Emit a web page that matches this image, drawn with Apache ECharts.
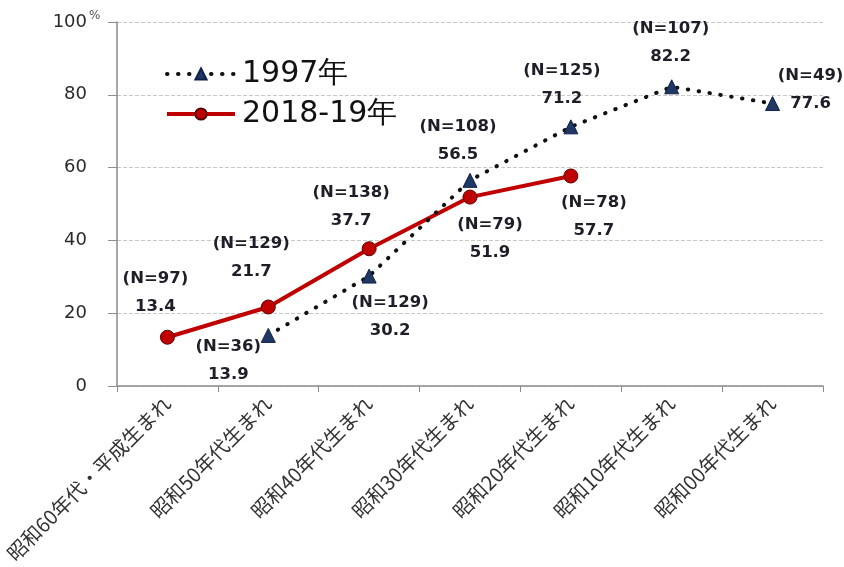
<!DOCTYPE html>
<html>
<head>
<meta charset="utf-8">
<script src="https://cdn.jsdelivr.net/npm/echarts@6/dist/echarts.min.js"></script>
<style>
  html, body { margin: 0; padding: 0; background: #fff; }
  #chart { width: 844px; height: 567px; }
</style>
</head>
<body>
<div id="chart"></div>
<script>
// Birth-cohort categories (x axis)
const categories = ['昭和60年代・平成生まれ', '昭和50年代生まれ', '昭和40年代生まれ', '昭和30年代生まれ', '昭和20年代生まれ', '昭和10年代生まれ', '昭和00年代生まれ'];

// Percentages per cohort
const values1997 = [null, 13.9, 30.2, 56.5, 71.2, 82.2, 77.6];
const values2018 = [13.4, 21.7, 37.7, 51.9, 57.7, null, null];

// Sample sizes per cohort
const n1997 = [null, 36, 129, 108, 125, 107, 49];
const n2018 = [97, 129, 138, 79, 78, null, null];

// Y axis ticks
const yTicks = [0, 20, 40, 60, 80, 100];

const seriesNames = ['1997年', '2018-19年'];

// Label placement (offset of the two-line label block from its point)
const offsets1997 = [null, [-40, 25], [21, 41], [-12, -40], [-9, -42], [-1, -44], [38, -14]];
const offsets2018 = [[-12, -45], [-17, -49], [-18, -42], [20, 42], [23, 41], null, null];

function buildData(values, ns, offsets) {
  return values.map((v, i) => {
    if (v == null) return null;
    return {
      value: v,
      label: {
        show: true,
        position: 'inside',
        offset: offsets[i],
        formatter: '(N=' + ns[i] + ')\n' + v.toFixed(1)
      }
    };
  });
}

const labelStyle = {
  align: 'center',
  verticalAlign: 'middle',
  fontFamily: 'DejaVu Sans',
  fontWeight: 'bold',
  fontSize: 16.5,
  lineHeight: 28,
  color: '#1e1e28'
};

const chart = echarts.init(document.getElementById('chart'), null, { renderer: 'canvas' });

chart.setOption({
  animation: false,
  backgroundColor: '#ffffff',
  grid: { left: 117, right: 21, top: 22, bottom: 181, containLabel: false },
  legend: {
    orient: 'vertical',
    left: 160,
    top: 53,
    itemWidth: 68,
    itemHeight: 14,
    itemGap: 8,
    lineStyle: { width: 4 },
    textStyle: {
      fontFamily: 'DejaVu Sans',
      fontSize: 30,
      lineHeight: 32,
      color: '#111',
      padding: [0, 0, 0, 2]
    },
    data: seriesNames
  },
  xAxis: {
    type: 'category',
    data: categories,
    boundaryGap: true,
    axisLine: { lineStyle: { color: '#8c8c8c', width: 1.5 } },
    axisTick: { show: true, length: 6, lineStyle: { color: '#8c8c8c' } },
    axisLabel: {
      rotate: 45,
      interval: 0,
      margin: 14,
      fontFamily: 'Noto Sans CJK JP',
      fontSize: 20,
      color: '#333'
    }
  },
  yAxis: {
    type: 'value',
    min: yTicks[0],
    max: yTicks[yTicks.length - 1],
    interval: yTicks[1] - yTicks[0],
    axisLine: { show: true, lineStyle: { color: '#8c8c8c', width: 1.5 } },
    axisTick: { show: true, length: 9, lineStyle: { color: '#8c8c8c' } },
    axisLabel: {
      margin: 30,
      fontFamily: 'DejaVu Sans',
      fontSize: 18,
      color: '#2a2a2a'
    },
    splitLine: { show: true, lineStyle: { color: '#c8c8c8', type: [4, 2], width: 1 } }
  },
  graphic: [{
    type: 'text',
    left: 89,
    top: 10,
    style: { text: '%', fontFamily: 'DejaVu Sans', fontSize: 12, fill: '#555' }
  }],
  series: [
    {
      name: seriesNames[0],
      type: 'line',
      data: buildData(values1997, n1997, offsets1997),
      connectNulls: false,
      symbol: 'triangle',
      symbolSize: 14,
      itemStyle: { color: '#1f3864', borderColor: '#10204a', borderWidth: 1 },
      lineStyle: { color: '#111', width: 4, type: [0.5, 10.5], cap: 'round' },
      label: labelStyle,
      z: 3
    },
    {
      name: seriesNames[1],
      type: 'line',
      data: buildData(values2018, n2018, offsets2018),
      connectNulls: false,
      symbol: 'circle',
      symbolSize: 14,
      itemStyle: { color: '#c00000', borderColor: '#5a0000', borderWidth: 1 },
      lineStyle: { color: '#c00000', width: 4 },
      label: labelStyle,
      z: 2
    }
  ]
});
</script>
</body>
</html>
